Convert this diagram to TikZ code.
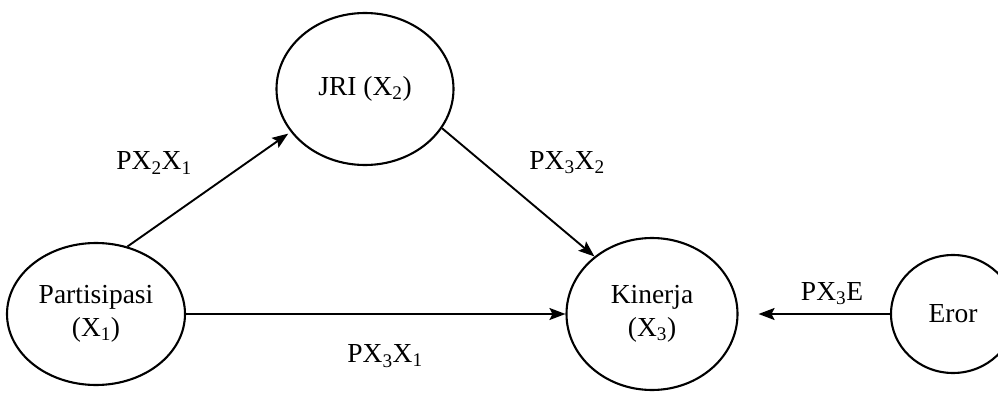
\documentclass[tikz,border=0pt]{standalone}
\usepackage{fontspec}
\setmainfont{Liberation Serif}
\usetikzlibrary{shapes.geometric,arrows.meta}
\begin{document}
\begin{tikzpicture}[x=1pt,y=-1pt,
  var/.style={draw,ellipse,line width=2.1pt,inner sep=0pt,align=center,
    font=\fontsize{27.5}{33}\selectfont},
  arr/.style={line width=1.9pt,-{Stealth[length=16pt,width=12pt,inset=3pt]}},
  lbl/.style={font=\fontsize{27.5}{33}\selectfont,inner sep=0pt}]
\useasboundingbox (0,0) rectangle (998,393);
\node[var,minimum width=178pt,minimum height=142pt] (P) at (96,314) {Partisipasi\\(X\textsubscript{1})};
\node[var,minimum width=177pt,minimum height=152pt] (J) at (365,89) {JRI (X\textsubscript{2})};
\node[var,minimum width=171pt,minimum height=152pt] (K) at (652,314) {Kinerja\\(X\textsubscript{3})};
\node[var,minimum width=124pt,minimum height=118pt] (E) at (953,314) {Eror};
\draw[arr,shorten >=3pt] (P.65) -- (J.210);
\draw[arr] (J.-27) -- (K.135);
\draw[arr] (P.east) -- (K.west);
\draw[arr,shorten >=20pt] (E.west) -- (K.east);
\node[lbl] (l1) at (154,163) {PX\textsubscript{2}X\textsubscript{1}};
\node[lbl] (l2) at (567,163) {PX\textsubscript{3}X\textsubscript{2}};
\node[lbl] (l3) at (385,356) {PX\textsubscript{3}X\textsubscript{1}};
\node[lbl] (l4) at (832,294) {PX\textsubscript{3}E};
\end{tikzpicture}
\end{document}
